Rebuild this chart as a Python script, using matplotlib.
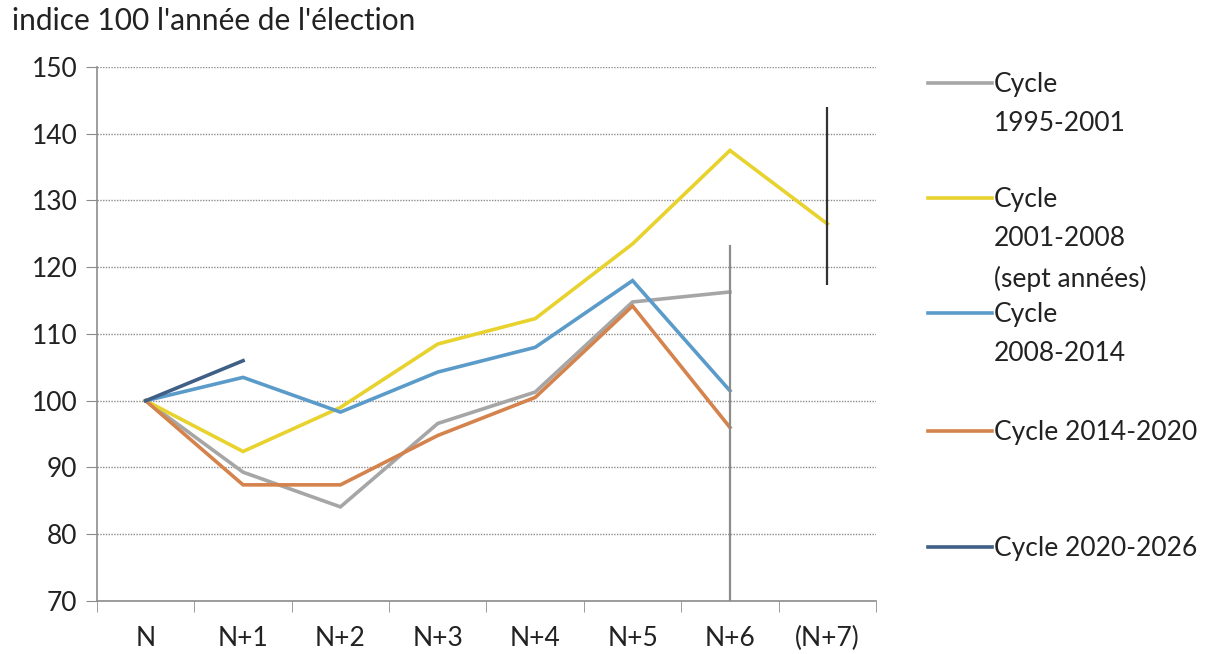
import matplotlib
matplotlib.use("Agg")
import matplotlib.pyplot as plt
from matplotlib.lines import Line2D

plt.rcParams['font.family'] = ['Lato', 'DejaVu Sans']

# categories on the x axis
categories = ["N", "N+1", "N+2", "N+3", "N+4", "N+5", "N+6", "(N+7)"]

# series values (indice 100 l'année de l'élection)
cycle_1995 = [100, 89.3, 84.1, 96.6, 101.3, 114.8, 116.3]
cycle_2001 = [100, 92.4, 99.0, 108.5, 112.3, 123.5, 137.5, 126.5]
cycle_2008 = [100, 103.5, 98.3, 104.3, 108.0, 118.0, 101.5]
cycle_2014 = [100, 87.4, 87.4, 94.8, 100.5, 114.2, 96.0]
cycle_2020 = [100, 106.0]

labels = ["Cycle\n1995-2001", "Cycle\n2001-2008\n(sept années)",
          "Cycle\n2008-2014", "Cycle 2014-2020", "Cycle 2020-2026"]
colors = ["#a6a6a6", "#e8d22e", "#5b9bc9", "#d4834d", "#3f5f86"]
series = [cycle_1995, cycle_2001, cycle_2008, cycle_2014, cycle_2020]

# the two vertical marker lines: (category index, low, high, colour)
vline_pos = [6, 7]
vline_low = [70, 117.3]
vline_high = [123.3, 144.0]
vline_col = ["#8c8c8c", "#333333"]

fig = plt.figure(figsize=(12.24, 6.54), dpi=100)
ax = fig.add_axes([97 / 1224, 1 - 601 / 654, (876 - 97) / 1224, (601 - 67) / 654])

for vals, col in zip(series, colors):
    ax.plot(range(len(vals)), vals, color=col, lw=2.6, solid_joinstyle="miter")

for p, lo, hi, c in zip(vline_pos, vline_low, vline_high, vline_col):
    ax.vlines(p, lo, hi, color=c, lw=1.6)

ax.set_xlim(-0.5, len(categories) - 0.5)
ax.set_ylim(70, 150)
ax.set_yticks(range(70, 151, 10))
ax.set_xticks(range(len(categories)))
ax.set_xticklabels(categories)
ax.set_xticks([i - 0.5 for i in range(len(categories) + 1)], minor=True)
ax.tick_params(axis="x", which="major", length=0, pad=18, labelsize=19, colors="#222222")
ax.tick_params(axis="x", which="minor", length=8, color="#8c8c8c", direction="out")
ax.tick_params(axis="y", length=8, labelsize=19, pad=6, colors="#222222")
ax.tick_params(axis="y", color="#8c8c8c")

ax.grid(axis="y", linestyle=(0, (1, 1)), color="#8c8c8c", lw=1.0)
ax.set_axisbelow(True)
for s in ["top", "right"]:
    ax.spines[s].set_visible(False)
for s in ["left", "bottom"]:
    ax.spines[s].set_color("#8c8c8c")
    ax.spines[s].set_linewidth(1.2)

fig.text(12 / 1224, 1 - 21 / 654, "indice 100 l'année de l'élection",
         fontsize=21.5, va="center", ha="left", color="#222222")

# legend drawn by hand: line aligned with first text line
leg_y = [83, 198, 313, 431, 547]
for lab, col, yy in zip(labels, colors, leg_y):
    yf = 1 - yy / 654
    fig.add_artist(Line2D([928 / 1224, 992 / 1224], [yf, yf], color=col, lw=2.6,
                          transform=fig.transFigure))
    fig.text(994 / 1224, 1 - (yy - 11) / 654, lab, fontsize=19, va="top", ha="left",
             color="#222222", linespacing=1.7)

fig.savefig("out.png", dpi=100)
